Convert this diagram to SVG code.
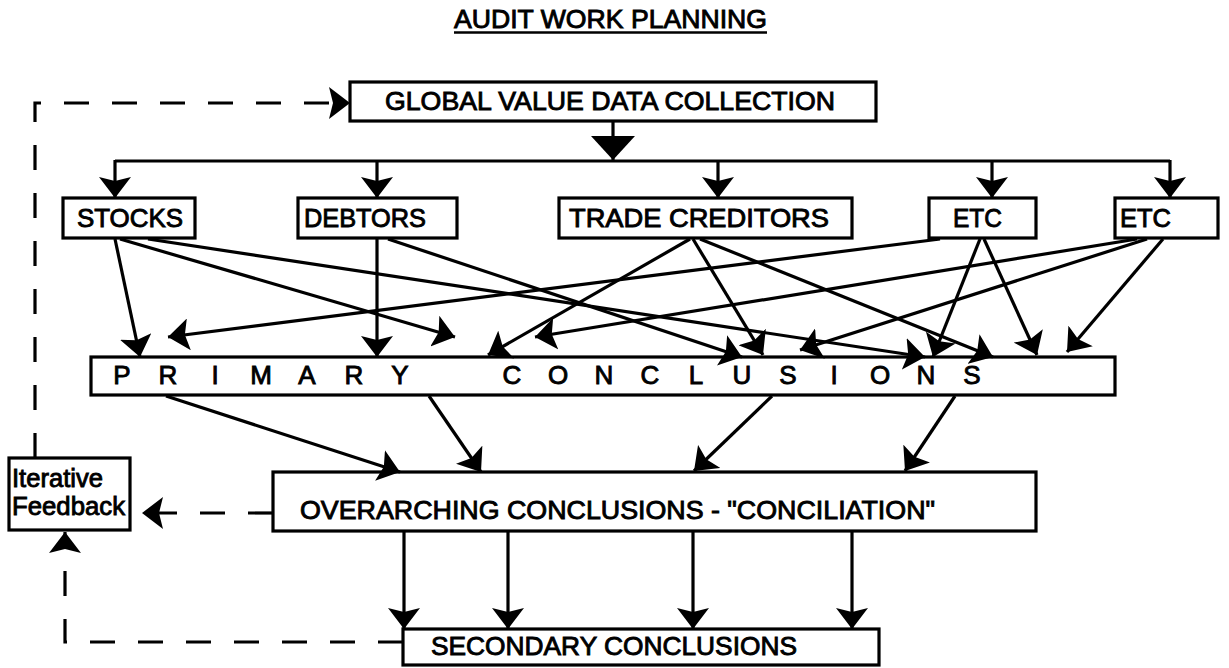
<svg xmlns="http://www.w3.org/2000/svg" width="1229" height="668" viewBox="0 0 1229 668">
<defs>
<style>
.box{fill:#fff;stroke:#000;stroke-width:3.2}
.t{font-family:"Liberation Sans",Arial,Helvetica,sans-serif;font-size:26px;fill:#000;stroke:#000;stroke-width:0.9}
.c{stroke:#000;stroke-width:3.2;fill:none}
.d{stroke-dasharray:25 23}
</style>
<marker id="a" markerUnits="userSpaceOnUse" markerWidth="21" markerHeight="32" refX="21" refY="16" orient="auto" viewBox="0 0 21 32"><path d="M0,0 L21,16 L0,32 L4,16 z" fill="#000"/></marker>
<marker id="big" markerUnits="userSpaceOnUse" markerWidth="24" markerHeight="44" refX="24" refY="22" orient="auto" viewBox="0 0 24 44"><path d="M0,0 L24,22 L0,44 z" fill="#000"/></marker>
</defs>
<rect width="1229" height="668" fill="#fff"/>

<g id="title">
<text class="t" x="454" y="28" font-size="25" textLength="313" lengthAdjust="spacingAndGlyphs">AUDIT WORK PLANNING</text>
<line x1="454" y1="32.5" x2="767" y2="32.5" stroke="#000" stroke-width="2.5"/>
</g>

<g id="global">
<rect class="box" x="350" y="82" width="526" height="39"/>
<text class="t" x="385" y="110" textLength="450" lengthAdjust="spacingAndGlyphs">GLOBAL VALUE DATA COLLECTION</text>
</g>

<g id="stocks">
<rect class="box" x="63" y="198" width="132" height="40"/>
<text class="t" x="77" y="227" textLength="106" lengthAdjust="spacingAndGlyphs">STOCKS</text>
</g>
<g id="debtors">
<rect class="box" x="298" y="198" width="159" height="40"/>
<text class="t" x="304" y="227" textLength="122" lengthAdjust="spacingAndGlyphs">DEBTORS</text>
</g>
<g id="trade-creditors">
<rect class="box" x="559" y="198" width="293" height="40"/>
<text class="t" x="569" y="227" textLength="260" lengthAdjust="spacingAndGlyphs">TRADE CREDITORS</text>
</g>
<g id="etc1">
<rect class="box" x="929" y="198" width="107" height="40"/>
<text class="t" x="953" y="227" textLength="49" lengthAdjust="spacingAndGlyphs">ETC</text>
</g>
<g id="etc2">
<rect class="box" x="1115" y="198" width="103" height="40"/>
<text class="t" x="1120" y="227" textLength="51" lengthAdjust="spacingAndGlyphs">ETC</text>
</g>

<g id="primary">
<rect class="box" x="91" y="357" width="1024" height="38"/>
<text class="t" y="384" font-size="24" text-anchor="middle" x="122 168 215 261 307 354 400 456 512 558 604 650 696 742 788 834 880 926 972">PRIMARY CONCLUSIONS</text>
</g>

<g id="overarching">
<rect class="box" x="273" y="472" width="763" height="59"/>
<text class="t" x="300" y="519" textLength="635" lengthAdjust="spacingAndGlyphs">OVERARCHING CONCLUSIONS  - "CONCILIATION"</text>
</g>

<g id="iterative-feedback">
<rect class="box" x="9" y="458" width="121" height="72"/>
<text class="t" x="12" y="487" font-size="25" textLength="91" lengthAdjust="spacingAndGlyphs">Iterative</text>
<text class="t" x="12" y="515" font-size="25" textLength="113" lengthAdjust="spacingAndGlyphs">Feedback</text>
</g>

<g id="secondary">
<rect class="box" x="403" y="629" width="476" height="36"/>
<text class="t" x="431" y="655" textLength="366" lengthAdjust="spacingAndGlyphs">SECONDARY CONCLUSIONS</text>
</g>

<g id="connectors">
<line class="c" x1="613" y1="121" x2="613" y2="160" marker-end="url(#big)"/>
<line class="c" x1="115" y1="161" x2="1170" y2="161"/>
<line class="c" x1="115" y1="160" x2="115" y2="198" marker-end="url(#a)"/>
<line class="c" x1="377" y1="160" x2="377" y2="198" marker-end="url(#a)"/>
<line class="c" x1="718" y1="160" x2="718" y2="198" marker-end="url(#a)"/>
<line class="c" x1="992" y1="160" x2="992" y2="198" marker-end="url(#a)"/>
<line class="c" x1="1170" y1="160" x2="1170" y2="198" marker-end="url(#a)"/>

<line class="c" x1="115" y1="239" x2="140" y2="357" marker-end="url(#a)"/>
<line class="c" x1="120" y1="239" x2="455" y2="337" marker-end="url(#a)"/>
<line class="c" x1="148" y1="239" x2="925" y2="357" marker-end="url(#a)"/>
<line class="c" x1="377" y1="239" x2="377" y2="357" marker-end="url(#a)"/>
<line class="c" x1="388" y1="239" x2="742" y2="357" marker-end="url(#a)"/>
<line class="c" x1="690" y1="239" x2="488" y2="355" marker-end="url(#a)"/>
<line class="c" x1="693" y1="239" x2="763" y2="355" marker-end="url(#a)"/>
<line class="c" x1="700" y1="239" x2="993" y2="357" marker-end="url(#a)"/>
<line class="c" x1="940" y1="239" x2="168" y2="337" marker-end="url(#a)"/>
<line class="c" x1="980" y1="239" x2="933" y2="357" marker-end="url(#a)"/>
<line class="c" x1="984" y1="239" x2="1037" y2="355" marker-end="url(#a)"/>
<line class="c" x1="1137" y1="239" x2="535" y2="337" marker-end="url(#a)"/>
<line class="c" x1="1147" y1="239" x2="800" y2="350" marker-end="url(#a)"/>
<line class="c" x1="1163" y1="239" x2="1067" y2="352" marker-end="url(#a)"/>

<line class="c" x1="166" y1="396" x2="400" y2="472" marker-end="url(#a)"/>
<line class="c" x1="429" y1="396" x2="481" y2="472" marker-end="url(#a)"/>
<line class="c" x1="772" y1="396" x2="694" y2="471" marker-end="url(#a)"/>
<line class="c" x1="955" y1="396" x2="905" y2="471" marker-end="url(#a)"/>

<line class="c" x1="404" y1="531" x2="404" y2="629" marker-end="url(#a)"/>
<line class="c" x1="508" y1="531" x2="508" y2="629" marker-end="url(#a)"/>
<line class="c" x1="693" y1="531" x2="693" y2="629" marker-end="url(#a)"/>
<line class="c" x1="852" y1="531" x2="852" y2="629" marker-end="url(#a)"/>

<path class="c d" d="M35,458 V103 H350" marker-end="url(#a)"/>
<path class="c d" d="M273,513 H142" marker-end="url(#a)"/>
<path class="c d" d="M403,642 H65 V532" marker-end="url(#a)"/>
</g>
</svg>
